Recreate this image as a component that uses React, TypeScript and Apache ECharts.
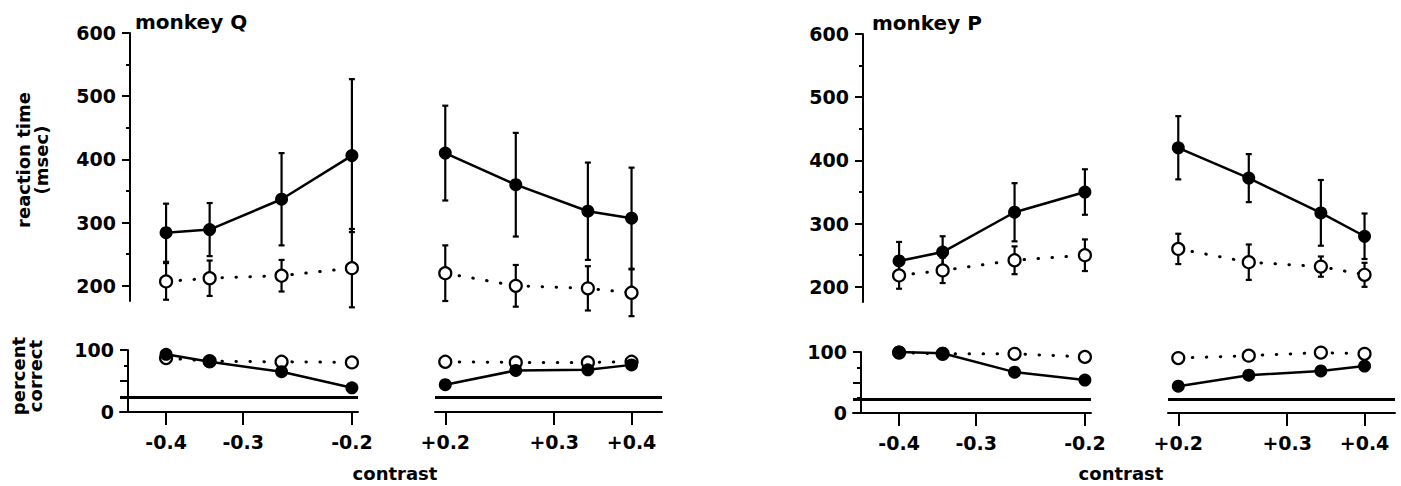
import React, { useEffect, useRef } from 'react';
import * as echarts from 'echarts';

// ---------- data ----------
const negContrast = [-0.4, -0.34, -0.26, -0.2];
const posContrast = [0.2, 0.26, 0.34, 0.4];
const negTicks = [-0.4, -0.3, -0.2];
const posTicks = [0.2, 0.3, 0.4];
const negTickLabels = ['-0.4', '-0.3', '-0.2'];
const posTickLabels = ['+0.2', '+0.3', '+0.4'];
const rtTicks = [200, 300, 400, 500, 600];
const rtMinorTicks = [250, 350, 450, 550];
const chanceLevel = 23;

// monkey Q — reaction time (msec), mean and error
const qRtFilledNeg = [284, 289, 337, 406];
const qRtFilledNegErr = [46, 42, 73, 121];
const qRtOpenNeg = [207, 212, 216, 228];
const qRtOpenNegErr = [29, 28, 25, 62];
const qRtFilledPos = [410, 360, 318, 307];
const qRtFilledPosErr = [75, 82, 77, 80];
const qRtOpenPos = [220, 200, 196, 189];
const qRtOpenPosErr = [44, 33, 35, 37];
// monkey Q — percent correct
const qPcFilledNeg = [93, 81, 65, 39];
const qPcOpenNeg = [87, 82, 81, 80];
const qPcFilledPos = [44, 67, 68, 76];
const qPcOpenPos = [81, 80, 80, 81];

// monkey P — reaction time (msec)
const pRtFilledNeg = [241, 255, 318, 350];
const pRtFilledNegErr = [30, 25, 46, 36];
const pRtOpenNeg = [218, 226, 242, 250];
const pRtOpenNegErr = [21, 20, 22, 25];
const pRtFilledPos = [420, 372, 317, 280];
const pRtFilledPosErr = [50, 38, 52, 36];
const pRtOpenPos = [260, 239, 232, 219];
const pRtOpenPosErr = [24, 28, 16, 19];
// monkey P — percent correct
const pPcFilledNeg = [100, 98, 67, 54];
const pPcOpenNeg = [99, 97, 97, 92];
const pPcFilledPos = [44, 62, 69, 77];
const pPcOpenPos = [90, 94, 99, 97];

// ---------- styling / layout ----------
const FONT = 'DejaVu Sans';
const BLACK = '#000';
const xNegRange = [0.1955, 0.475];
const xPosRange = [0.1925, 0.448];
const rtMin = 176;
const rtMax = 600;

const lg = (c: number) => Math.log10(Math.abs(c));

const errRender = (params: any, api: any) => {
  const x = api.value(0);
  const y = api.value(1);
  const e = api.value(2);
  const top = api.coord([x, y + e]);
  const bot = api.coord([x, y - e]);
  const hw = 3;
  const st = { stroke: BLACK, lineWidth: 2.2 };
  return {
    type: 'group',
    children: [
      { type: 'line', shape: { x1: top[0], y1: top[1], x2: bot[0], y2: bot[1] }, style: st },
      { type: 'line', shape: { x1: top[0] - hw, y1: top[1], x2: top[0] + hw, y2: top[1] }, style: st },
      { type: 'line', shape: { x1: bot[0] - hw, y1: bot[1], x2: bot[0] + hw, y2: bot[1] }, style: st },
    ],
  };
};

function buildOption() {
  const panels = [
    {
      title: 'monkey Q', titleX: 135, titleY: 22, topY: 33, topH: 268, botY: 350, botH: 62,
      contrastX: 395,
      segs: [
        { contrast: negContrast, ticks: negTicks, labels: negTickLabels, range: xNegRange, inverse: true, left: 120, width: 238, showY: true,
          rtF: qRtFilledNeg, rtFe: qRtFilledNegErr, rtO: qRtOpenNeg, rtOe: qRtOpenNegErr, pcF: qPcFilledNeg, pcO: qPcOpenNeg },
        { contrast: posContrast, ticks: posTicks, labels: posTickLabels, range: xPosRange, inverse: false, left: 435, width: 227, showY: false,
          rtF: qRtFilledPos, rtFe: qRtFilledPosErr, rtO: qRtOpenPos, rtOe: qRtOpenPosErr, pcF: qPcFilledPos, pcO: qPcOpenPos },
      ],
    },
    {
      title: 'monkey P', titleX: 872, titleY: 23, topY: 34, topH: 268, botY: 352, botH: 61,
      contrastX: 1121,
      segs: [
        { contrast: negContrast, ticks: negTicks, labels: negTickLabels, range: xNegRange, inverse: true, left: 853, width: 238, showY: true,
          rtF: pRtFilledNeg, rtFe: pRtFilledNegErr, rtO: pRtOpenNeg, rtOe: pRtOpenNegErr, pcF: pPcFilledNeg, pcO: pPcOpenNeg },
        { contrast: posContrast, ticks: posTicks, labels: posTickLabels, range: xPosRange, inverse: false, left: 1168, width: 227, showY: false,
          rtF: pRtFilledPos, rtFe: pRtFilledPosErr, rtO: pRtOpenPos, rtOe: pRtOpenPosErr, pcF: pPcFilledPos, pcO: pPcOpenPos },
      ],
    },
  ];

  const grids: any[] = [];
  const xAxes: any[] = [];
  const yAxes: any[] = [];
  const series: any[] = [];
  const graphics: any[] = [];

  const labelStyle = { color: BLACK, fontSize: 19, fontWeight: 'bold', fontFamily: FONT };

  const filledLine = (gi: number, yi: number, data: number[][]) => ({
    type: 'line', xAxisIndex: gi, yAxisIndex: yi, data, silent: true, z: 4,
    symbol: 'circle', symbolSize: 13,
    itemStyle: { color: BLACK },
    lineStyle: { color: BLACK, width: 2.5 },
  });
  const openLine = (gi: number, yi: number, data: number[][]) => ({
    type: 'line', xAxisIndex: gi, yAxisIndex: yi, data, silent: true, z: 3,
    symbol: 'circle', symbolSize: 12,
    itemStyle: { color: '#fff', borderColor: BLACK, borderWidth: 2.2 },
    lineStyle: { color: BLACK, width: 3, type: [0.5, 13.5], cap: 'round' },
  });

  panels.forEach((p) => {
    p.segs.forEach((s) => {
      const xMin = lg(s.range[0]);
      const xMax = lg(s.range[1]);
      const tickLogs = s.ticks.map(lg);

      // ---- top: reaction time ----
      const gt = grids.length;
      grids.push({ left: s.left, top: p.topY, width: s.width, height: p.topH });
      xAxes.push({ type: 'value', gridIndex: gt, min: xMin, max: xMax, inverse: s.inverse, show: false });
      const yt = yAxes.length;
      yAxes.push({
        type: 'value', gridIndex: gt, min: rtMin, max: rtMax, show: s.showY, position: 'left', offset: -10,
        axisLine: { show: true, lineStyle: { color: BLACK, width: 2 } },
        axisTick: { show: true, customValues: rtTicks, length: 8, lineStyle: { color: BLACK, width: 2 } },
        axisLabel: { ...labelStyle, customValues: rtTicks, margin: 14 },
        splitLine: { show: false },
      });
      if (s.showY) {
        yAxes.push({
          type: 'value', gridIndex: gt, min: rtMin, max: rtMax, position: 'left', offset: -10,
          axisLine: { show: false },
          axisTick: { show: true, customValues: rtMinorTicks, length: 4, lineStyle: { color: BLACK, width: 2 } },
          axisLabel: { show: false },
          splitLine: { show: false },
        });
      }
      series.push({
        type: 'custom', xAxisIndex: gt, yAxisIndex: yt, clip: false, silent: true, z: 2,
        renderItem: errRender, encode: { x: 0, y: 1 },
        data: s.contrast.map((c, i) => [lg(c), s.rtO[i], s.rtOe[i]]),
      });
      series.push({
        type: 'custom', xAxisIndex: gt, yAxisIndex: yt, clip: false, silent: true, z: 2,
        renderItem: errRender, encode: { x: 0, y: 1 },
        data: s.contrast.map((c, i) => [lg(c), s.rtF[i], s.rtFe[i]]),
      });
      series.push(openLine(gt, yt, s.contrast.map((c, i) => [lg(c), s.rtO[i]])));
      series.push(filledLine(gt, yt, s.contrast.map((c, i) => [lg(c), s.rtF[i]])));

      // ---- bottom: percent correct ----
      const gb = grids.length;
      grids.push({ left: s.left, top: p.botY, width: s.width, height: p.botH });
      xAxes.push({
        type: 'value', gridIndex: gb, min: xMin, max: xMax, inverse: s.inverse, position: 'bottom',
        axisLine: { show: true, onZero: false, lineStyle: { color: BLACK, width: 2 } },
        axisTick: { show: true, customValues: tickLogs, length: 13, lineStyle: { color: BLACK, width: 2 } },
        axisLabel: {
          ...labelStyle, customValues: tickLogs, margin: 20,
          formatter: (v: number) => {
            const i = tickLogs.findIndex((t) => Math.abs(t - v) < 1e-6);
            return i >= 0 ? s.labels[i] : '';
          },
        },
        splitLine: { show: false },
      });
      const yb = yAxes.length;
      yAxes.push({
        type: 'value', gridIndex: gb, min: 0, max: 100, interval: 50, show: s.showY, position: 'left', offset: -8,
        axisLine: { show: true, lineStyle: { color: BLACK, width: 2 } },
        axisTick: { show: true, length: 8, lineStyle: { color: BLACK, width: 2 } },
        minorTick: { show: true, splitNumber: 2, length: 4, lineStyle: { color: BLACK, width: 2 } },
        axisLabel: { ...labelStyle, margin: 14, formatter: (v: number) => (v === 50 ? '' : String(v)) },
        splitLine: { show: false },
        minorSplitLine: { show: false },
      });
      const ol: any = openLine(gb, yb, s.contrast.map((c, i) => [lg(c), s.pcO[i]]));
      ol.markLine = {
        silent: true, symbol: 'none', animation: false,
        label: { show: false },
        lineStyle: { color: BLACK, width: 3, type: 'solid' },
        data: [{ yAxis: chanceLevel }],
      };
      series.push(ol);
      series.push(filledLine(gb, yb, s.contrast.map((c, i) => [lg(c), s.pcF[i]])));
    });

    graphics.push({
      type: 'text', x: p.titleX, y: p.titleY,
      style: { text: p.title, fill: BLACK, font: `bold 20px "${FONT}"`, align: 'left', verticalAlign: 'middle' },
    });
    graphics.push({
      type: 'text', x: p.contrastX, y: 473,
      style: { text: 'contrast', fill: BLACK, font: `bold 18px "${FONT}"`, align: 'center', verticalAlign: 'middle' },
    });
  });

  graphics.push({
    type: 'text', x: 32, y: 160, rotation: Math.PI / 2,
    style: { text: 'reaction time\n(msec)', fill: BLACK, font: `bold 18px "${FONT}"`, align: 'center', verticalAlign: 'middle', lineHeight: 18 },
  });
  graphics.push({
    type: 'text', x: 27, y: 376, rotation: Math.PI / 2,
    style: { text: 'percent\ncorrect', fill: BLACK, font: `bold 18px "${FONT}"`, align: 'center', verticalAlign: 'middle', lineHeight: 17 },
  });

  return {
    animation: false,
    backgroundColor: '#fff',
    grid: grids,
    xAxis: xAxes,
    yAxis: yAxes,
    series,
    graphic: graphics,
  };
}

export default function App() {
  const ref = useRef<HTMLDivElement>(null);
  useEffect(() => {
    const chart = echarts.init(ref.current as HTMLDivElement, null, { renderer: 'svg' });
    chart.setOption(buildOption() as any);
    return () => chart.dispose();
  }, []);
  return (
    <div
      ref={ref}
      style={{ position: 'absolute', left: 0, top: 0, width: 1401, height: 486, background: '#fff' }}
    />
  );
}
